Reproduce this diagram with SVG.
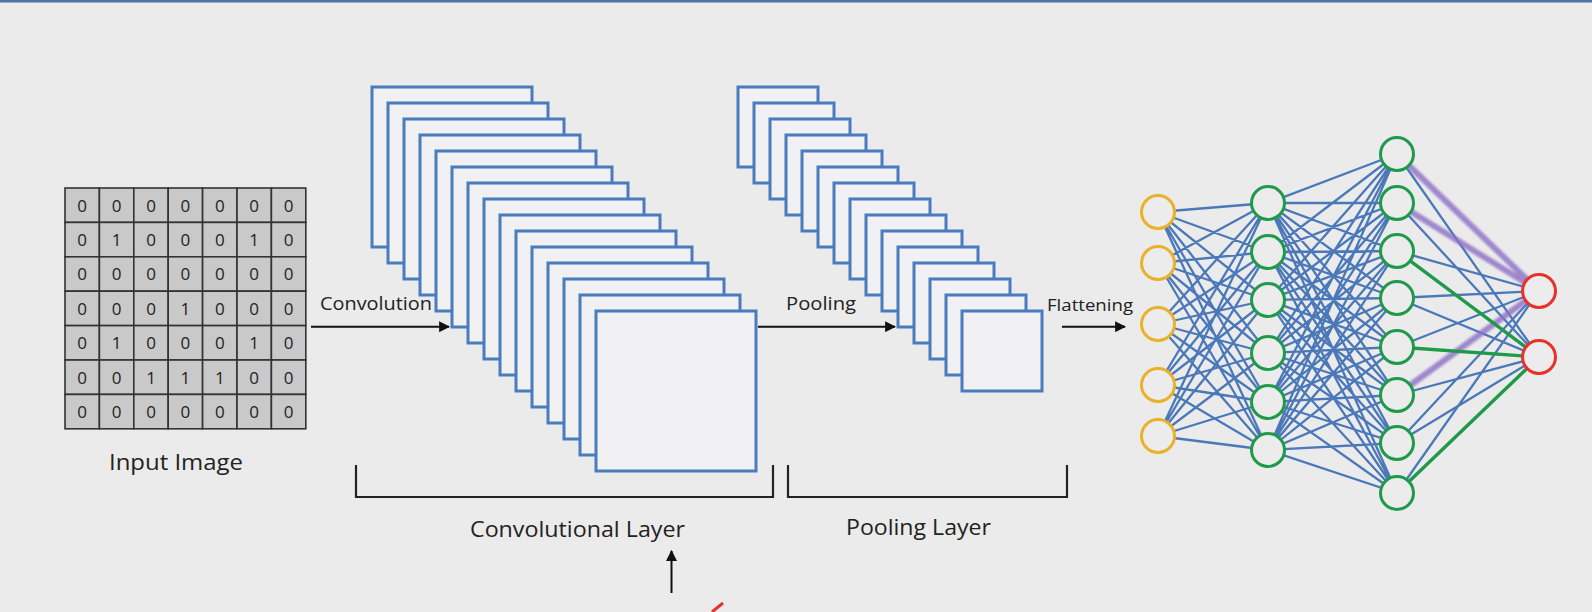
<svg xmlns="http://www.w3.org/2000/svg" width="1592" height="612" viewBox="0 0 1592 612">
<defs>
<style>
.bg{fill:#ebebeb}
.lbl{font-family:"Open Sans","Liberation Sans",sans-serif;fill:#222}
.cell{fill:#c9c9c9;stroke:#333;stroke-width:1.6}
.dig{font-family:"Open Sans","Liberation Sans",sans-serif;font-size:17px;fill:#222;text-anchor:middle}
.fm{fill:#f1f1f3;stroke:#4a7bbf;stroke-width:3}
.arr{stroke:#111;stroke-width:2;fill:none}
.brk{stroke:#222;stroke-width:2.2;fill:none}
.e{stroke:#4a78b8;stroke-width:2.3;fill:none}
.ep{stroke:#8c6fc6;stroke-width:6;fill:none;opacity:0.8}
.eg{stroke:#1e9a48;stroke-width:3.4;fill:none}
.ny{fill:#ececec;stroke:#eab22a;stroke-width:3}
.ng{fill:#ececec;stroke:#1e9a4a;stroke-width:3}
.nr{fill:#ececec;stroke:#e8312a;stroke-width:3}
</style>
<marker id="ah" viewBox="0 0 10 10" refX="9" refY="5" markerWidth="5.5" markerHeight="5.5" orient="auto" markerUnits="strokeWidth">
<path d="M0 0L10 5L0 10z" fill="#111"/>
</marker>
<filter id="blur" x="-10%" y="-10%" width="120%" height="120%"><feGaussianBlur stdDeviation="1.2"/></filter>
</defs>
<rect class="bg" x="0" y="0" width="1592" height="612"/>
<rect x="0" y="0" width="1592" height="2.5" fill="#4d74a6"/>

<g id="input-image">
<g>
<rect class="cell" x="65" y="188" width="34.4" height="34.4"/><rect class="cell" x="99.4" y="188" width="34.4" height="34.4"/><rect class="cell" x="133.8" y="188" width="34.4" height="34.4"/><rect class="cell" x="168.2" y="188" width="34.4" height="34.4"/><rect class="cell" x="202.6" y="188" width="34.4" height="34.4"/><rect class="cell" x="237" y="188" width="34.4" height="34.4"/><rect class="cell" x="271.4" y="188" width="34.4" height="34.4"/>
<rect class="cell" x="65" y="222.4" width="34.4" height="34.4"/><rect class="cell" x="99.4" y="222.4" width="34.4" height="34.4"/><rect class="cell" x="133.8" y="222.4" width="34.4" height="34.4"/><rect class="cell" x="168.2" y="222.4" width="34.4" height="34.4"/><rect class="cell" x="202.6" y="222.4" width="34.4" height="34.4"/><rect class="cell" x="237" y="222.4" width="34.4" height="34.4"/><rect class="cell" x="271.4" y="222.4" width="34.4" height="34.4"/>
<rect class="cell" x="65" y="256.8" width="34.4" height="34.4"/><rect class="cell" x="99.4" y="256.8" width="34.4" height="34.4"/><rect class="cell" x="133.8" y="256.8" width="34.4" height="34.4"/><rect class="cell" x="168.2" y="256.8" width="34.4" height="34.4"/><rect class="cell" x="202.6" y="256.8" width="34.4" height="34.4"/><rect class="cell" x="237" y="256.8" width="34.4" height="34.4"/><rect class="cell" x="271.4" y="256.8" width="34.4" height="34.4"/>
<rect class="cell" x="65" y="291.2" width="34.4" height="34.4"/><rect class="cell" x="99.4" y="291.2" width="34.4" height="34.4"/><rect class="cell" x="133.8" y="291.2" width="34.4" height="34.4"/><rect class="cell" x="168.2" y="291.2" width="34.4" height="34.4"/><rect class="cell" x="202.6" y="291.2" width="34.4" height="34.4"/><rect class="cell" x="237" y="291.2" width="34.4" height="34.4"/><rect class="cell" x="271.4" y="291.2" width="34.4" height="34.4"/>
<rect class="cell" x="65" y="325.6" width="34.4" height="34.4"/><rect class="cell" x="99.4" y="325.6" width="34.4" height="34.4"/><rect class="cell" x="133.8" y="325.6" width="34.4" height="34.4"/><rect class="cell" x="168.2" y="325.6" width="34.4" height="34.4"/><rect class="cell" x="202.6" y="325.6" width="34.4" height="34.4"/><rect class="cell" x="237" y="325.6" width="34.4" height="34.4"/><rect class="cell" x="271.4" y="325.6" width="34.4" height="34.4"/>
<rect class="cell" x="65" y="360" width="34.4" height="34.4"/><rect class="cell" x="99.4" y="360" width="34.4" height="34.4"/><rect class="cell" x="133.8" y="360" width="34.4" height="34.4"/><rect class="cell" x="168.2" y="360" width="34.4" height="34.4"/><rect class="cell" x="202.6" y="360" width="34.4" height="34.4"/><rect class="cell" x="237" y="360" width="34.4" height="34.4"/><rect class="cell" x="271.4" y="360" width="34.4" height="34.4"/>
<rect class="cell" x="65" y="394.4" width="34.4" height="34.4"/><rect class="cell" x="99.4" y="394.4" width="34.4" height="34.4"/><rect class="cell" x="133.8" y="394.4" width="34.4" height="34.4"/><rect class="cell" x="168.2" y="394.4" width="34.4" height="34.4"/><rect class="cell" x="202.6" y="394.4" width="34.4" height="34.4"/><rect class="cell" x="237" y="394.4" width="34.4" height="34.4"/><rect class="cell" x="271.4" y="394.4" width="34.4" height="34.4"/>
</g>
<g class="dig">
<text x="82.2" y="211.5">0</text><text x="116.6" y="211.5">0</text><text x="151" y="211.5">0</text><text x="185.4" y="211.5">0</text><text x="219.8" y="211.5">0</text><text x="254.2" y="211.5">0</text><text x="288.6" y="211.5">0</text>
<text x="82.2" y="245.9">0</text><text x="116.6" y="245.9">1</text><text x="151" y="245.9">0</text><text x="185.4" y="245.9">0</text><text x="219.8" y="245.9">0</text><text x="254.2" y="245.9">1</text><text x="288.6" y="245.9">0</text>
<text x="82.2" y="280.3">0</text><text x="116.6" y="280.3">0</text><text x="151" y="280.3">0</text><text x="185.4" y="280.3">0</text><text x="219.8" y="280.3">0</text><text x="254.2" y="280.3">0</text><text x="288.6" y="280.3">0</text>
<text x="82.2" y="314.7">0</text><text x="116.6" y="314.7">0</text><text x="151" y="314.7">0</text><text x="185.4" y="314.7">1</text><text x="219.8" y="314.7">0</text><text x="254.2" y="314.7">0</text><text x="288.6" y="314.7">0</text>
<text x="82.2" y="349.1">0</text><text x="116.6" y="349.1">1</text><text x="151" y="349.1">0</text><text x="185.4" y="349.1">0</text><text x="219.8" y="349.1">0</text><text x="254.2" y="349.1">1</text><text x="288.6" y="349.1">0</text>
<text x="82.2" y="383.5">0</text><text x="116.6" y="383.5">0</text><text x="151" y="383.5">1</text><text x="185.4" y="383.5">1</text><text x="219.8" y="383.5">1</text><text x="254.2" y="383.5">0</text><text x="288.6" y="383.5">0</text>
<text x="82.2" y="417.9">0</text><text x="116.6" y="417.9">0</text><text x="151" y="417.9">0</text><text x="185.4" y="417.9">0</text><text x="219.8" y="417.9">0</text><text x="254.2" y="417.9">0</text><text x="288.6" y="417.9">0</text>
</g>
<text class="lbl" x="109" y="470" font-size="21" textLength="134" lengthAdjust="spacingAndGlyphs">Input Image</text>
</g>

<g id="conv-layer">
<rect class="fm" x="372" y="87" width="160" height="160"/>
<rect class="fm" x="388" y="103" width="160" height="160"/>
<rect class="fm" x="404" y="119" width="160" height="160"/>
<rect class="fm" x="420" y="135" width="160" height="160"/>
<rect class="fm" x="436" y="151" width="160" height="160"/>
<rect class="fm" x="452" y="167" width="160" height="160"/>
<rect class="fm" x="468" y="183" width="160" height="160"/>
<rect class="fm" x="484" y="199" width="160" height="160"/>
<rect class="fm" x="500" y="215" width="160" height="160"/>
<rect class="fm" x="516" y="231" width="160" height="160"/>
<rect class="fm" x="532" y="247" width="160" height="160"/>
<rect class="fm" x="548" y="263" width="160" height="160"/>
<rect class="fm" x="564" y="279" width="160" height="160"/>
<rect class="fm" x="580" y="295" width="160" height="160"/>
<rect class="fm" x="596" y="311" width="160" height="160"/>
<path class="brk" d="M356 465V497H773V465"/>
<text class="lbl" x="470" y="537" font-size="22" textLength="215" lengthAdjust="spacingAndGlyphs">Convolutional Layer</text>
</g>

<g id="pool-layer">
<rect class="fm" x="738" y="87" width="80" height="80"/>
<rect class="fm" x="754" y="103" width="80" height="80"/>
<rect class="fm" x="770" y="119" width="80" height="80"/>
<rect class="fm" x="786" y="135" width="80" height="80"/>
<rect class="fm" x="802" y="151" width="80" height="80"/>
<rect class="fm" x="818" y="167" width="80" height="80"/>
<rect class="fm" x="834" y="183" width="80" height="80"/>
<rect class="fm" x="850" y="199" width="80" height="80"/>
<rect class="fm" x="866" y="215" width="80" height="80"/>
<rect class="fm" x="882" y="231" width="80" height="80"/>
<rect class="fm" x="898" y="247" width="80" height="80"/>
<rect class="fm" x="914" y="263" width="80" height="80"/>
<rect class="fm" x="930" y="279" width="80" height="80"/>
<rect class="fm" x="946" y="295" width="80" height="80"/>
<rect class="fm" x="962" y="311" width="80" height="80"/>
<path class="brk" d="M788 465V497H1067V465"/>
<text class="lbl" x="846" y="535" font-size="22" textLength="145" lengthAdjust="spacingAndGlyphs">Pooling Layer</text>
</g>

<g id="connectors">
<line class="arr" x1="311" y1="326.7" x2="449" y2="326.7" marker-end="url(#ah)"/>
<text class="lbl" x="320" y="310" font-size="18" textLength="112" lengthAdjust="spacingAndGlyphs">Convolution</text>
<line class="arr" x1="758" y1="326.7" x2="895" y2="326.7" marker-end="url(#ah)"/>
<text class="lbl" x="786" y="310" font-size="18" textLength="70" lengthAdjust="spacingAndGlyphs">Pooling</text>
<line class="arr" x1="1062" y1="326.7" x2="1125" y2="326.7" marker-end="url(#ah)"/>
<text class="lbl" x="1047" y="311" font-size="17" textLength="86" lengthAdjust="spacingAndGlyphs">Flattening</text>
<line class="arr" x1="671.5" y1="593" x2="671.5" y2="551" marker-end="url(#ah)"/>
<path class="e" d="M1158 212L1268 203M1158 212L1268 252M1158 212L1268 300M1158 212L1268 353M1158 212L1268 402M1158 212L1268 450
M1158 263L1268 203M1158 263L1268 252M1158 263L1268 300M1158 263L1268 353M1158 263L1268 402M1158 263L1268 450
M1158 324L1268 203M1158 324L1268 252M1158 324L1268 300M1158 324L1268 353M1158 324L1268 402M1158 324L1268 450
M1158 385L1268 203M1158 385L1268 252M1158 385L1268 300M1158 385L1268 353M1158 385L1268 402M1158 385L1268 450
M1158 436L1268 203M1158 436L1268 252M1158 436L1268 300M1158 436L1268 353M1158 436L1268 402M1158 436L1268 450"/>
<path class="e" d="M1268 203L1397 154M1268 203L1397 203M1268 203L1397 251M1268 203L1397 298M1268 203L1397 347M1268 203L1397 395M1268 203L1397 443M1268 203L1397 493
M1268 252L1397 154M1268 252L1397 203M1268 252L1397 251M1268 252L1397 298M1268 252L1397 347M1268 252L1397 395M1268 252L1397 443M1268 252L1397 493
M1268 300L1397 154M1268 300L1397 203M1268 300L1397 251M1268 300L1397 298M1268 300L1397 347M1268 300L1397 395M1268 300L1397 443M1268 300L1397 493
M1268 353L1397 154M1268 353L1397 203M1268 353L1397 251M1268 353L1397 298M1268 353L1397 347M1268 353L1397 395M1268 353L1397 443M1268 353L1397 493
M1268 402L1397 154M1268 402L1397 203M1268 402L1397 251M1268 402L1397 298M1268 402L1397 347M1268 402L1397 395M1268 402L1397 443M1268 402L1397 493
M1268 450L1397 154M1268 450L1397 203M1268 450L1397 251M1268 450L1397 298M1268 450L1397 347M1268 450L1397 395M1268 450L1397 443M1268 450L1397 493"/>
<path class="e" d="M1397 154L1539 357M1397 203L1539 357M1397 251L1539 291M1397 298L1539 291M1397 298L1539 357M1397 347L1539 291M1397 395L1539 357M1397 443L1539 291M1397 443L1539 357M1397 493L1539 291"/>
<path class="ep" filter="url(#blur)" d="M1397 154L1539 291M1397 203L1539 291M1397 395L1539 291"/>
<path class="eg" d="M1397 251L1539 357M1397 347L1539 357M1397 493L1539 357"/>
<path d="M712 612L723 603" stroke="#e8312a" stroke-width="3" fill="none"/>
</g>

<g id="input-layer">
<circle class="ny" cx="1158" cy="212" r="16.5"/>
<circle class="ny" cx="1158" cy="263" r="16.5"/>
<circle class="ny" cx="1158" cy="324" r="16.5"/>
<circle class="ny" cx="1158" cy="385" r="16.5"/>
<circle class="ny" cx="1158" cy="436" r="16.5"/>
</g>
<g id="hidden-layer-1">
<circle class="ng" cx="1268" cy="203" r="16.5"/>
<circle class="ng" cx="1268" cy="252" r="16.5"/>
<circle class="ng" cx="1268" cy="300" r="16.5"/>
<circle class="ng" cx="1268" cy="353" r="16.5"/>
<circle class="ng" cx="1268" cy="402" r="16.5"/>
<circle class="ng" cx="1268" cy="450" r="16.5"/>
</g>
<g id="hidden-layer-2">
<circle class="ng" cx="1397" cy="154" r="16.5"/>
<circle class="ng" cx="1397" cy="203" r="16.5"/>
<circle class="ng" cx="1397" cy="251" r="16.5"/>
<circle class="ng" cx="1397" cy="298" r="16.5"/>
<circle class="ng" cx="1397" cy="347" r="16.5"/>
<circle class="ng" cx="1397" cy="395" r="16.5"/>
<circle class="ng" cx="1397" cy="443" r="16.5"/>
<circle class="ng" cx="1397" cy="493" r="16.5"/>
</g>
<g id="output-layer">
<circle class="nr" cx="1539" cy="291" r="16.5"/>
<circle class="nr" cx="1539" cy="357" r="16.5"/>
</g>
</svg>
